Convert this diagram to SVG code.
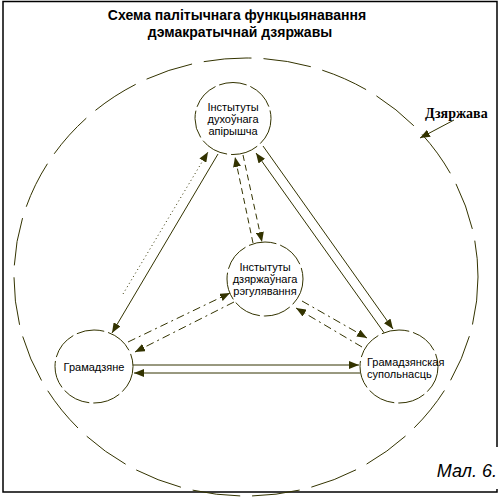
<svg xmlns="http://www.w3.org/2000/svg" width="502" height="504" viewBox="0 0 502 504">
<defs>
<style>
.frame{fill:none;stroke:#000;stroke-width:1.5}
.state{fill:none;stroke:#333300;stroke-width:1;stroke-dasharray:48 12}
.node{fill:#fff;stroke:#333300;stroke-width:1;stroke-dasharray:28 4}
.lbl{font-family:"Liberation Sans",Arial,sans-serif;font-size:11px;fill:#000}
.title{font-family:"Liberation Sans",Arial,sans-serif;font-size:14px;font-weight:bold;fill:#000}
.c{fill:none;stroke:#333300;stroke-width:1}
.dot{stroke-dasharray:1 3}
.dash{stroke-dasharray:6 4}
.dd{stroke-dasharray:8 4 2 4}
</style>
<marker id="ah" viewBox="0 0 10 8" refX="10" refY="4" markerWidth="10" markerHeight="8" markerUnits="userSpaceOnUse" orient="auto">
<path d="M0,0 L10,4 L0,8 Z" fill="#333300"/>
</marker>
</defs>
<rect width="502" height="504" fill="#fff"/>
<path class="frame" d="M497,447 V1.5 H3 V492 H497 V489"/>
<g id="title">
<text class="title" x="237" y="20" text-anchor="middle">Схема палітычнага функцыянавання</text>
<text class="title" x="240" y="37" text-anchor="middle">дэмакратычнай дзяржавы</text>
</g>
<g id="state">
<ellipse class="state" cx="246" cy="277" rx="232" ry="219"/>
<text x="425" y="118" font-family="'Liberation Serif','Times New Roman',serif" font-size="14" font-weight="bold">Дзяржава</text>
</g>
<g id="connectors">
<line class="c" x1="454" y1="120" x2="420" y2="138" marker-end="url(#ah)"/>
<line class="c dot" x1="123" y1="294" x2="208" y2="152" marker-end="url(#ah)"/>
<line class="c" x1="218" y1="154" x2="112" y2="333" marker-end="url(#ah)"/>
<line class="c dash" x1="253" y1="243" x2="235" y2="157" marker-end="url(#ah)"/>
<line class="c dash" x1="243" y1="155" x2="262" y2="242" marker-end="url(#ah)"/>
<line class="c" x1="385" y1="334" x2="256" y2="153" marker-end="url(#ah)"/>
<line class="c" x1="263" y1="146" x2="393" y2="329" marker-end="url(#ah)"/>
<line class="c dd" x1="128" y1="342" x2="230" y2="293" marker-end="url(#ah)"/>
<line class="c dd" x1="234" y1="302" x2="135" y2="352" marker-end="url(#ah)"/>
<line class="c dd" x1="302" y1="301" x2="367" y2="338" marker-end="url(#ah)"/>
<line class="c dd" x1="362" y1="347" x2="296" y2="308" marker-end="url(#ah)"/>
<line class="c" x1="133" y1="365" x2="359" y2="365" marker-end="url(#ah)"/>
<line class="c" x1="360" y1="373" x2="134" y2="373" marker-end="url(#ah)"/>
</g>
<g id="n-spirit">
<ellipse class="node" cx="233" cy="118.5" rx="38" ry="36"/>
<text class="lbl" text-anchor="middle"><tspan x="233" y="111">Інстытуты</tspan><tspan x="233" y="123">духоўнага</tspan><tspan x="233" y="135">апірышча</tspan></text>
</g>
<g id="n-state">
<ellipse class="node" cx="265" cy="279" rx="38" ry="37"/>
<text class="lbl" text-anchor="middle"><tspan x="265" y="271">Інстытуты</tspan><tspan x="265" y="283">дзяржаўнага</tspan><tspan x="265" y="295">рэгулявання</tspan></text>
</g>
<g id="n-citizens">
<ellipse class="node" cx="94" cy="366.5" rx="39" ry="36.5"/>
<text class="lbl" x="94" y="371" text-anchor="middle">Грамадзяне</text>
</g>
<g id="n-society">
<ellipse class="node" cx="399" cy="366.5" rx="39" ry="36.5"/>
<text class="lbl"><tspan x="367" y="366">Грамадзянская</tspan><tspan x="367" y="378">супольнасць</tspan></text>
</g>
<g id="caption">
<text x="497" y="477" text-anchor="end" font-family="'Liberation Sans',Arial,sans-serif" font-size="18" font-style="italic">Мал. 6.</text>
</g>
</svg>
